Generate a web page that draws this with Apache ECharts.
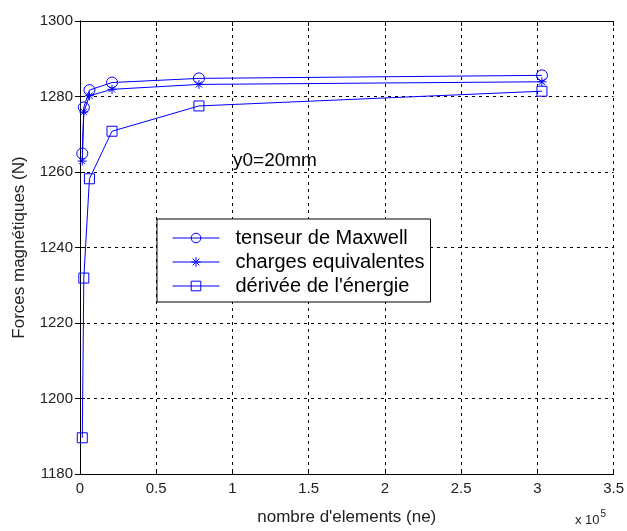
<!DOCTYPE html>
<html>
<head>
<meta charset="utf-8">
<script src="https://cdn.jsdelivr.net/npm/echarts@6/dist/echarts.min.js"></script>
<style>
  html, body { margin: 0; padding: 0; background: #fff; }
  #chart { width: 627px; height: 531px; }
</style>
</head>
<body>
<div id="chart"></div>
<script>
// Number of mesh elements (ne) for each computation
const elements = [1500, 2500, 6200, 21000, 78000, 303000];

// Magnetic force (N) obtained with each method
const maxwell = [1264.9, 1277.1, 1281.7, 1283.7, 1284.8, 1285.6];
const charges = [1262.9, 1275.9, 1280.2, 1281.9, 1283.2, 1283.9];
const energie = [1189.6, 1231.9, 1258.2, 1270.8, 1277.5, 1281.4];

const seriesNames = ['tenseur de Maxwell', 'charges equivalentes', "dérivée de l'énergie"];
const xTicks = [0, 0.5, 1, 1.5, 2, 2.5, 3, 3.5];   // ×10^5
const yTicks = [1180, 1200, 1220, 1240, 1260, 1280, 1300];

const FONT = '"Liberation Sans", Arial, sans-serif';
const BLUE = '#0000ff';

// asterisk marker drawn as stroked strokes
const STAR = 'path://M0 -5 L0 5 M-5 0 L5 0 M-3.5 -3.5 L3.5 3.5 M-3.5 3.5 L3.5 -3.5';

const pairs = arr => elements.map((n, i) => [n, arr[i]]);

function lineSeries(name, data, symbol, size) {
  return {
    name: name,
    type: 'line',
    data: pairs(data),
    symbol: symbol,
    symbolSize: size,
    color: BLUE,
    lineStyle: { color: BLUE, width: 1 },
    itemStyle: { color: 'rgba(0,0,0,0)', borderColor: BLUE, borderWidth: 1 },
    emphasis: { disabled: true },
    animation: false
  };
}

const gridLine = { show: true, lineStyle: { color: '#000', type: [3, 4], width: 1 } };
const tick = { show: true, inside: true, length: 5, lineStyle: { color: '#000' } };
const axisLine = { show: true, lineStyle: { color: '#000', width: 1 } };

const chart = echarts.init(document.getElementById('chart'), null, { renderer: 'canvas' });
chart.setOption({
  backgroundColor: '#fff',
  animation: false,
  grid: { left: 80, top: 21, right: 10, bottom: 52, containLabel: false },
  xAxis: [
    {
      type: 'value', min: 0, max: 350000, interval: 50000,
      name: "nombre d'elements (ne)", nameLocation: 'middle', nameGap: 35,
      nameTextStyle: { fontFamily: FONT, fontSize: 17, color: '#222' },
      axisLine: axisLine, axisTick: tick, splitLine: gridLine,
      axisLabel: {
        fontFamily: FONT, fontSize: 15, color: '#222', margin: 7,
        formatter: v => String(xTicks[Math.round(v / 50000)])
      }
    },
    {
      type: 'value', min: 0, max: 350000, interval: 50000, position: 'top',
      axisLine: axisLine, axisTick: tick, splitLine: { show: false }, axisLabel: { show: false }
    }
  ],
  yAxis: [
    {
      type: 'value', min: 1180, max: 1300, interval: 20,
      name: 'Forces magnétiques (N)', nameLocation: 'middle', nameGap: 52,
      nameTextStyle: { fontFamily: FONT, fontSize: 17, color: '#222' },
      axisLine: axisLine, axisTick: tick, splitLine: gridLine,
      axisLabel: {
        fontFamily: FONT, fontSize: 15, color: '#222', margin: 7,
        formatter: v => String(yTicks[Math.round((v - 1180) / 20)])
      }
    },
    {
      type: 'value', min: 1180, max: 1300, interval: 20, position: 'right',
      axisLine: axisLine, axisTick: tick, splitLine: { show: false }, axisLabel: { show: false }
    }
  ],
  legend: {
    orient: 'vertical',
    left: 157, top: 219,
    padding: [9, 6, 6, 15],
    itemGap: 4,
    itemWidth: 47, itemHeight: 12,
    backgroundColor: '#fff',
    borderColor: '#000', borderWidth: 1,
    selectedMode: false,
    lineStyle: { width: 1, color: BLUE },
    itemStyle: { borderWidth: 1, borderColor: BLUE, color: 'rgba(0,0,0,0)' },
    textStyle: { fontFamily: FONT, fontSize: 20, color: '#000', padding: [0, 0, 0, 11] },
    data: seriesNames
  },
  series: [
    lineSeries(seriesNames[0], maxwell, 'circle', 11),
    lineSeries(seriesNames[1], charges, STAR, 9),
    lineSeries(seriesNames[2], energie, 'rect', 10)
  ],
  graphic: [
    {
      type: 'text', left: 233, top: 151,
      style: { text: 'y0=20mm', fontFamily: FONT, fontSize: 19, fill: '#000' }
    },
    {
      type: 'text', left: 575, top: 509,
      style: {
        text: '{a|x 10}{b|5}',
        rich: {
          a: { fontFamily: FONT, fontSize: 13, fill: '#222', verticalAlign: 'bottom' },
          b: { fontFamily: FONT, fontSize: 10, fill: '#222', verticalAlign: 'top', padding: [0, 0, 8, 1] }
        }
      }
    }
  ]
});
</script>
</body>
</html>
